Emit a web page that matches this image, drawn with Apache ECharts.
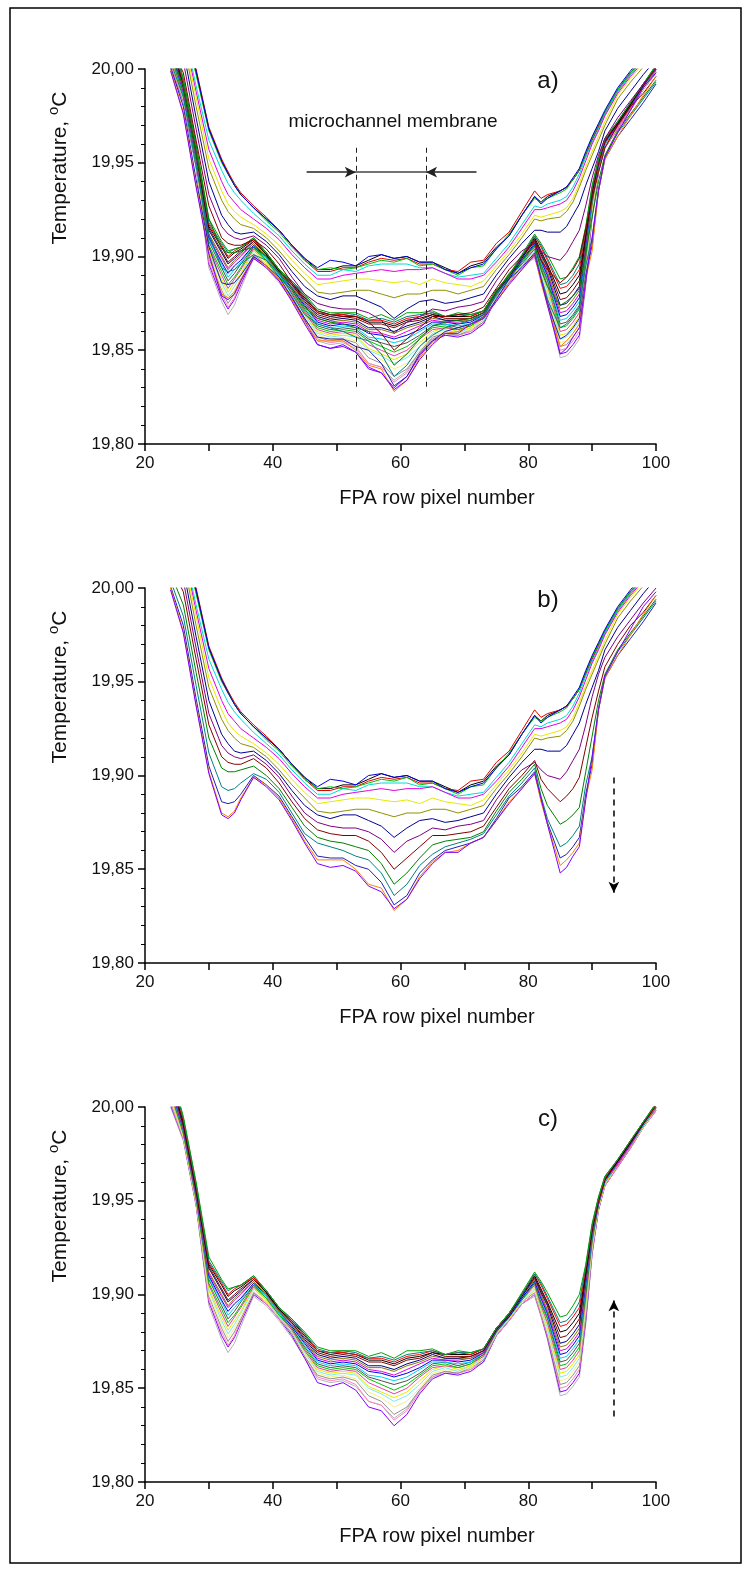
<!DOCTYPE html>
<html>
<head>
<meta charset="utf-8">
<script src="https://cdn.jsdelivr.net/npm/echarts@6/dist/echarts.min.js"></script>
<style>
  html, body { margin: 0; padding: 0; background: #fff; }
  #chart { width: 747px; height: 1569px; }
</style>
</head>
<body>
<div id="chart"></div>
<script>
// FPA row pixel positions where the profiles were sampled
const pixels = [24, 26, 28, 30, 32, 33, 34, 35, 37, 39, 41, 43, 45, 47, 49, 51, 53, 55, 57, 59, 61, 63, 65, 67, 69, 71, 73, 75, 77, 79, 81, 82, 83, 85, 86, 87, 88, 89, 90, 91, 92, 94, 96, 98, 100]

// panel b) - cooling, profiles from first (top) to last (bottom)
const coolingCurves = [
    [20.040, 20.025, 19.998, 19.968, 19.951, 19.945, 19.938, 19.933, 19.926, 19.920, 19.914, 19.906, 19.899, 19.893, 19.893, 19.895, 19.895, 19.898, 19.901, 19.899, 19.900, 19.897, 19.897, 19.894, 19.891, 19.895, 19.897, 19.905, 19.911, 19.922, 19.932, 19.929, 19.932, 19.935, 19.937, 19.941, 19.946, 19.955, 19.963, 19.970, 19.977, 19.989, 19.998, 20.006, 20.014],
    [20.042, 20.027, 20.000, 19.969, 19.952, 19.945, 19.939, 19.934, 19.927, 19.921, 19.914, 19.906, 19.898, 19.892, 19.892, 19.894, 19.894, 19.897, 19.899, 19.898, 19.899, 19.896, 19.896, 19.893, 19.892, 19.897, 19.898, 19.907, 19.913, 19.924, 19.935, 19.931, 19.933, 19.935, 19.937, 19.941, 19.946, 19.954, 19.962, 19.969, 19.976, 19.988, 19.997, 20.005, 20.013],
    [20.040, 20.025, 19.997, 19.967, 19.950, 19.944, 19.938, 19.933, 19.926, 19.919, 19.913, 19.905, 19.898, 19.893, 19.894, 19.893, 19.894, 19.896, 19.898, 19.897, 19.899, 19.895, 19.896, 19.893, 19.890, 19.894, 19.895, 19.904, 19.912, 19.922, 19.931, 19.929, 19.931, 19.934, 19.936, 19.941, 19.946, 19.955, 19.963, 19.970, 19.977, 19.989, 19.998, 20.006, 20.014],
    [20.041, 20.026, 19.999, 19.968, 19.951, 19.944, 19.938, 19.933, 19.926, 19.920, 19.914, 19.906, 19.899, 19.894, 19.898, 19.897, 19.895, 19.900, 19.901, 19.899, 19.900, 19.897, 19.897, 19.893, 19.891, 19.894, 19.896, 19.904, 19.911, 19.922, 19.932, 19.928, 19.931, 19.935, 19.937, 19.942, 19.947, 19.956, 19.964, 19.971, 19.978, 19.990, 19.999, 20.007, 20.015],
    [20.036, 20.022, 19.991, 19.962, 19.946, 19.939, 19.934, 19.930, 19.923, 19.917, 19.911, 19.903, 19.896, 19.890, 19.890, 19.893, 19.892, 19.895, 19.896, 19.896, 19.896, 19.894, 19.894, 19.891, 19.889, 19.890, 19.891, 19.899, 19.907, 19.917, 19.927, 19.926, 19.928, 19.930, 19.932, 19.937, 19.944, 19.953, 19.961, 19.968, 19.976, 19.988, 19.997, 20.005, 20.013],
    [20.032, 20.020, 19.988, 19.957, 19.940, 19.933, 19.929, 19.925, 19.920, 19.915, 19.909, 19.901, 19.894, 19.888, 19.888, 19.890, 19.891, 19.892, 19.893, 19.892, 19.893, 19.893, 19.894, 19.891, 19.888, 19.888, 19.890, 19.897, 19.905, 19.915, 19.925, 19.925, 19.926, 19.928, 19.930, 19.935, 19.942, 19.951, 19.960, 19.967, 19.975, 19.987, 19.996, 20.004, 20.012],
    [20.028, 20.017, 19.985, 19.952, 19.935, 19.928, 19.924, 19.921, 19.917, 19.912, 19.906, 19.898, 19.891, 19.885, 19.886, 19.887, 19.888, 19.888, 19.887, 19.886, 19.887, 19.885, 19.888, 19.886, 19.885, 19.884, 19.887, 19.895, 19.903, 19.912, 19.922, 19.921, 19.922, 19.924, 19.926, 19.931, 19.939, 19.948, 19.956, 19.964, 19.972, 19.986, 19.995, 20.003, 20.011],
    [20.024, 20.015, 19.980, 19.947, 19.930, 19.924, 19.920, 19.917, 19.915, 19.910, 19.903, 19.895, 19.888, 19.881, 19.880, 19.881, 19.882, 19.882, 19.880, 19.878, 19.880, 19.880, 19.882, 19.882, 19.880, 19.882, 19.884, 19.893, 19.901, 19.910, 19.920, 19.919, 19.920, 19.921, 19.924, 19.929, 19.937, 19.946, 19.954, 19.962, 19.970, 19.984, 19.993, 20.001, 20.009],
    [20.020, 20.010, 19.974, 19.940, 19.922, 19.917, 19.913, 19.912, 19.913, 19.908, 19.901, 19.892, 19.884, 19.879, 19.877, 19.879, 19.879, 19.876, 19.873, 19.867, 19.872, 19.876, 19.877, 19.875, 19.876, 19.878, 19.880, 19.890, 19.899, 19.907, 19.914, 19.914, 19.913, 19.913, 19.916, 19.922, 19.928, 19.938, 19.947, 19.956, 19.967, 19.979, 19.988, 19.997, 20.005],
    [20.016, 20.004, 19.968, 19.933, 19.916, 19.912, 19.910, 19.909, 19.911, 19.906, 19.899, 19.889, 19.880, 19.875, 19.873, 19.872, 19.872, 19.870, 19.866, 19.859, 19.865, 19.868, 19.872, 19.871, 19.873, 19.874, 19.876, 19.887, 19.896, 19.903, 19.907, 19.903, 19.900, 19.898, 19.902, 19.908, 19.914, 19.927, 19.942, 19.954, 19.963, 19.974, 19.983, 19.992, 20.000],
    [20.012, 19.998, 19.962, 19.927, 19.910, 19.907, 19.906, 19.906, 19.909, 19.904, 19.896, 19.886, 19.877, 19.871, 19.869, 19.868, 19.868, 19.865, 19.859, 19.850, 19.856, 19.862, 19.868, 19.868, 19.869, 19.870, 19.873, 19.883, 19.893, 19.900, 19.908, 19.898, 19.893, 19.886, 19.889, 19.893, 19.899, 19.915, 19.931, 19.945, 19.958, 19.970, 19.980, 19.987, 19.996],
    [20.008, 19.991, 19.955, 19.920, 19.904, 19.902, 19.902, 19.903, 19.905, 19.900, 19.893, 19.883, 19.873, 19.867, 19.865, 19.864, 19.862, 19.860, 19.853, 19.842, 19.848, 19.856, 19.863, 19.865, 19.866, 19.867, 19.870, 19.881, 19.891, 19.898, 19.906, 19.893, 19.884, 19.874, 19.876, 19.879, 19.883, 19.902, 19.921, 19.940, 19.954, 19.967, 19.976, 19.985, 19.994],
    [20.004, 19.985, 19.948, 19.912, 19.894, 19.892, 19.893, 19.896, 19.901, 19.898, 19.891, 19.880, 19.869, 19.864, 19.862, 19.860, 19.857, 19.855, 19.848, 19.836, 19.842, 19.852, 19.858, 19.862, 19.864, 19.866, 19.869, 19.879, 19.889, 19.896, 19.904, 19.889, 19.877, 19.862, 19.864, 19.868, 19.873, 19.895, 19.910, 19.936, 19.953, 19.966, 19.975, 19.984, 19.993],
    [20.001, 19.980, 19.941, 19.905, 19.886, 19.885, 19.886, 19.890, 19.900, 19.895, 19.889, 19.878, 19.867, 19.857, 19.856, 19.856, 19.852, 19.850, 19.843, 19.831, 19.836, 19.848, 19.855, 19.860, 19.862, 19.864, 19.867, 19.877, 19.888, 19.894, 19.902, 19.887, 19.875, 19.856, 19.858, 19.862, 19.867, 19.890, 19.906, 19.935, 19.952, 19.964, 19.973, 19.982, 19.992],
    [20.000, 19.977, 19.938, 19.902, 19.880, 19.878, 19.881, 19.888, 19.899, 19.895, 19.888, 19.877, 19.865, 19.855, 19.855, 19.855, 19.850, 19.842, 19.840, 19.828, 19.834, 19.846, 19.854, 19.859, 19.860, 19.864, 19.867, 19.876, 19.886, 19.893, 19.901, 19.886, 19.874, 19.852, 19.855, 19.859, 19.864, 19.888, 19.903, 19.935, 19.952, 19.964, 19.975, 19.986, 19.996],
    [19.999, 19.976, 19.937, 19.901, 19.879, 19.877, 19.880, 19.887, 19.899, 19.894, 19.887, 19.876, 19.864, 19.853, 19.851, 19.852, 19.849, 19.841, 19.838, 19.829, 19.834, 19.845, 19.853, 19.859, 19.859, 19.864, 19.867, 19.876, 19.885, 19.893, 19.901, 19.888, 19.874, 19.848, 19.851, 19.857, 19.862, 19.887, 19.910, 19.935, 19.953, 19.966, 19.978, 19.990, 19.998]
]

// panel c) - recovery, profiles from first (bottom) to last (top)
const recoveryCurves = [
    [20.000, 19.982, 19.947, 19.894, 19.876, 19.869, 19.874, 19.883, 19.899, 19.894, 19.886, 19.877, 19.866, 19.855, 19.853, 19.854, 19.851, 19.843, 19.841, 19.834, 19.839, 19.849, 19.856, 19.858, 19.858, 19.860, 19.864, 19.878, 19.886, 19.895, 19.899, 19.888, 19.876, 19.846, 19.847, 19.851, 19.856, 19.884, 19.921, 19.945, 19.958, 19.968, 19.978, 19.989, 19.998],
    [20.001, 19.983, 19.948, 19.896, 19.878, 19.872, 19.877, 19.885, 19.900, 19.895, 19.887, 19.878, 19.866, 19.853, 19.851, 19.853, 19.849, 19.840, 19.838, 19.830, 19.836, 19.847, 19.855, 19.858, 19.857, 19.859, 19.864, 19.878, 19.886, 19.895, 19.900, 19.889, 19.877, 19.848, 19.849, 19.853, 19.858, 19.886, 19.922, 19.945, 19.958, 19.968, 19.978, 19.989, 19.998],
    [20.002, 19.983, 19.948, 19.897, 19.880, 19.873, 19.878, 19.886, 19.901, 19.895, 19.887, 19.879, 19.867, 19.856, 19.854, 19.855, 19.852, 19.843, 19.841, 19.833, 19.838, 19.848, 19.856, 19.859, 19.858, 19.860, 19.865, 19.878, 19.886, 19.895, 19.900, 19.889, 19.878, 19.850, 19.851, 19.855, 19.860, 19.888, 19.923, 19.946, 19.958, 19.968, 19.978, 19.989, 19.998],
    [20.003, 19.984, 19.949, 19.899, 19.882, 19.875, 19.880, 19.887, 19.901, 19.896, 19.888, 19.879, 19.867, 19.857, 19.855, 19.856, 19.854, 19.846, 19.843, 19.836, 19.840, 19.849, 19.857, 19.859, 19.858, 19.861, 19.865, 19.879, 19.887, 19.896, 19.901, 19.890, 19.879, 19.852, 19.853, 19.857, 19.862, 19.890, 19.924, 19.946, 19.959, 19.969, 19.979, 19.989, 19.999],
    [20.004, 19.984, 19.949, 19.900, 19.884, 19.877, 19.882, 19.888, 19.902, 19.896, 19.888, 19.880, 19.868, 19.858, 19.856, 19.857, 19.855, 19.848, 19.845, 19.840, 19.843, 19.850, 19.858, 19.860, 19.859, 19.861, 19.866, 19.879, 19.887, 19.896, 19.902, 19.891, 19.880, 19.854, 19.855, 19.859, 19.864, 19.892, 19.925, 19.946, 19.959, 19.969, 19.979, 19.989, 19.999],
    [20.005, 19.985, 19.950, 19.902, 19.886, 19.879, 19.884, 19.890, 19.903, 19.897, 19.888, 19.880, 19.869, 19.859, 19.857, 19.858, 19.857, 19.850, 19.847, 19.843, 19.846, 19.852, 19.859, 19.861, 19.859, 19.862, 19.866, 19.879, 19.887, 19.896, 19.903, 19.892, 19.882, 19.856, 19.857, 19.861, 19.866, 19.894, 19.926, 19.947, 19.959, 19.969, 19.979, 19.990, 19.999],
    [20.006, 19.985, 19.950, 19.903, 19.888, 19.881, 19.886, 19.891, 19.904, 19.897, 19.889, 19.881, 19.870, 19.860, 19.858, 19.859, 19.858, 19.851, 19.848, 19.845, 19.848, 19.854, 19.860, 19.862, 19.860, 19.862, 19.867, 19.880, 19.887, 19.897, 19.904, 19.893, 19.884, 19.858, 19.859, 19.863, 19.868, 19.896, 19.927, 19.947, 19.959, 19.969, 19.979, 19.990, 19.999],
    [20.007, 19.986, 19.951, 19.905, 19.890, 19.883, 19.888, 19.893, 19.904, 19.898, 19.889, 19.881, 19.870, 19.861, 19.859, 19.860, 19.859, 19.853, 19.850, 19.847, 19.850, 19.856, 19.861, 19.862, 19.861, 19.863, 19.867, 19.880, 19.888, 19.897, 19.905, 19.894, 19.885, 19.860, 19.861, 19.865, 19.870, 19.898, 19.928, 19.948, 19.960, 19.969, 19.979, 19.990, 19.999],
    [20.008, 19.986, 19.951, 19.906, 19.892, 19.885, 19.889, 19.894, 19.905, 19.898, 19.889, 19.882, 19.871, 19.862, 19.860, 19.861, 19.860, 19.855, 19.852, 19.849, 19.852, 19.857, 19.862, 19.863, 19.861, 19.863, 19.868, 19.880, 19.888, 19.897, 19.906, 19.895, 19.887, 19.862, 19.863, 19.867, 19.872, 19.900, 19.929, 19.948, 19.960, 19.970, 19.980, 19.990, 20.000],
    [20.009, 19.987, 19.952, 19.908, 19.894, 19.887, 19.891, 19.896, 19.905, 19.899, 19.890, 19.882, 19.872, 19.863, 19.861, 19.862, 19.861, 19.856, 19.854, 19.852, 19.854, 19.858, 19.863, 19.864, 19.862, 19.864, 19.868, 19.880, 19.888, 19.898, 19.906, 19.896, 19.888, 19.864, 19.865, 19.869, 19.874, 19.902, 19.930, 19.948, 19.960, 19.970, 19.980, 19.990, 20.000],
    [20.010, 19.987, 19.952, 19.909, 19.896, 19.889, 19.893, 19.897, 19.906, 19.899, 19.890, 19.883, 19.873, 19.864, 19.862, 19.863, 19.862, 19.857, 19.856, 19.854, 19.856, 19.860, 19.864, 19.864, 19.863, 19.864, 19.869, 19.881, 19.888, 19.898, 19.907, 19.897, 19.889, 19.866, 19.867, 19.871, 19.876, 19.904, 19.931, 19.949, 19.960, 19.970, 19.980, 19.990, 20.000],
    [20.011, 19.988, 19.953, 19.910, 19.897, 19.891, 19.895, 19.898, 19.906, 19.900, 19.891, 19.883, 19.874, 19.865, 19.863, 19.864, 19.863, 19.859, 19.858, 19.856, 19.858, 19.861, 19.865, 19.865, 19.864, 19.865, 19.869, 19.881, 19.888, 19.898, 19.907, 19.898, 19.890, 19.868, 19.869, 19.873, 19.878, 19.906, 19.932, 19.949, 19.961, 19.970, 19.980, 19.991, 20.000],
    [20.012, 19.988, 19.953, 19.911, 19.899, 19.893, 19.897, 19.900, 19.907, 19.900, 19.891, 19.884, 19.875, 19.866, 19.864, 19.865, 19.864, 19.860, 19.859, 19.857, 19.860, 19.863, 19.866, 19.865, 19.865, 19.866, 19.869, 19.881, 19.889, 19.899, 19.908, 19.899, 19.891, 19.870, 19.871, 19.875, 19.880, 19.908, 19.933, 19.949, 19.961, 19.970, 19.980, 19.991, 20.000],
    [20.013, 19.989, 19.954, 19.912, 19.900, 19.894, 19.898, 19.901, 19.907, 19.900, 19.891, 19.884, 19.875, 19.867, 19.865, 19.866, 19.865, 19.861, 19.861, 19.859, 19.862, 19.864, 19.867, 19.866, 19.866, 19.866, 19.870, 19.881, 19.889, 19.899, 19.908, 19.900, 19.892, 19.872, 19.873, 19.877, 19.882, 19.909, 19.933, 19.950, 19.961, 19.971, 19.981, 19.991, 20.000],
    [20.014, 19.990, 19.955, 19.914, 19.902, 19.896, 19.899, 19.902, 19.908, 19.901, 19.892, 19.885, 19.876, 19.868, 19.866, 19.867, 19.866, 19.862, 19.862, 19.860, 19.863, 19.865, 19.868, 19.866, 19.866, 19.867, 19.870, 19.881, 19.889, 19.899, 19.909, 19.901, 19.894, 19.874, 19.875, 19.879, 19.884, 19.910, 19.934, 19.950, 19.961, 19.971, 19.981, 19.991, 20.001],
    [20.015, 19.991, 19.956, 19.915, 19.903, 19.897, 19.900, 19.903, 19.908, 19.901, 19.892, 19.885, 19.877, 19.869, 19.867, 19.868, 19.867, 19.864, 19.864, 19.862, 19.865, 19.866, 19.869, 19.867, 19.867, 19.867, 19.870, 19.882, 19.889, 19.900, 19.909, 19.902, 19.895, 19.877, 19.878, 19.882, 19.887, 19.911, 19.935, 19.950, 19.962, 19.971, 19.981, 19.991, 20.001],
    [20.016, 19.992, 19.957, 19.916, 19.905, 19.899, 19.902, 19.904, 19.909, 19.901, 19.892, 19.886, 19.878, 19.870, 19.868, 19.869, 19.868, 19.865, 19.865, 19.863, 19.866, 19.867, 19.869, 19.868, 19.868, 19.868, 19.871, 19.882, 19.890, 19.900, 19.910, 19.903, 19.896, 19.880, 19.881, 19.885, 19.890, 19.912, 19.935, 19.951, 19.962, 19.971, 19.981, 19.992, 20.001],
    [20.017, 19.993, 19.958, 19.917, 19.906, 19.900, 19.903, 19.905, 19.909, 19.902, 19.893, 19.886, 19.879, 19.870, 19.869, 19.869, 19.868, 19.866, 19.866, 19.864, 19.867, 19.868, 19.870, 19.868, 19.869, 19.868, 19.871, 19.882, 19.890, 19.900, 19.911, 19.905, 19.898, 19.883, 19.884, 19.888, 19.893, 19.914, 19.936, 19.951, 19.962, 19.972, 19.982, 19.992, 20.001],
    [20.018, 19.994, 19.959, 19.918, 19.907, 19.902, 19.904, 19.905, 19.910, 19.902, 19.893, 19.887, 19.879, 19.871, 19.869, 19.870, 19.869, 19.866, 19.867, 19.865, 19.868, 19.869, 19.870, 19.868, 19.869, 19.869, 19.871, 19.882, 19.890, 19.900, 19.911, 19.906, 19.899, 19.885, 19.886, 19.890, 19.896, 19.915, 19.937, 19.952, 19.963, 19.972, 19.982, 19.992, 20.002],
    [20.020, 19.995, 19.960, 19.920, 19.908, 19.903, 19.904, 19.905, 19.910, 19.902, 19.893, 19.887, 19.880, 19.872, 19.870, 19.870, 19.870, 19.867, 19.869, 19.866, 19.870, 19.870, 19.871, 19.868, 19.870, 19.869, 19.871, 19.882, 19.890, 19.901, 19.912, 19.907, 19.901, 19.888, 19.889, 19.894, 19.900, 19.916, 19.938, 19.952, 19.963, 19.972, 19.982, 19.992, 20.002]
]

const coolingColors = ['#000000', '#e00000', '#00c000', '#0000e0', '#00d8d8', '#e000e0', '#e8e800', '#909000',
    '#000090', '#800080', '#800000', '#008000', '#008080', '#2020b0', '#ff8000', '#8000ff']
const recoveryColors = ['#b4b4b4', '#8000ff', '#ff80c0', '#909090', '#f0f080', '#80e8e8', '#e8e800', '#e040a0',
    '#00c000', '#505050', '#00d0f0', '#0000e0', '#e000e0', '#808000', '#000080', '#800000',
    '#000000', '#ff0000', '#008080', '#00a000']

const panelLetters = ['a)', 'b)', 'c)']
const xTitle = 'FPA row pixel number'

const chart = echarts.init(document.getElementById('chart'), null, { renderer: 'canvas' })

const FONT = 'Liberation Sans, Arial, sans-serif'
const tops = [69, 588, 1107]
const plotH = 375

const grids = tops.map(t => ({ left: 145, top: t, width: 511, height: plotH }))

const xAxes = tops.map((t, i) => ({
    type: 'value', gridIndex: i, min: 20, max: 100, interval: 10,
    axisLine: { lineStyle: { color: '#000', width: 1.5 } },
    axisTick: { inside: false, length: 7, lineStyle: { color: '#000', width: 1.5 } },
    axisLabel: {
        margin: 11, fontSize: 17, fontFamily: FONT, color: '#111',
        formatter: v => (v % 20 === 0 ? String(v) : '')
    },
    splitLine: { show: false }
}))

const yAxes = tops.map((t, i) => ({
    type: 'value', gridIndex: i, min: 19.8, max: 20.0, interval: 0.05,
    axisLine: { show: true, lineStyle: { color: '#000', width: 1.5 } },
    axisTick: { show: true, inside: false, length: 7, lineStyle: { color: '#000', width: 1.5 } },
    minorTick: { show: true, splitNumber: 5, length: 4, lineStyle: { color: '#000', width: 1 } },
    axisLabel: {
        margin: 11, fontSize: 17, fontFamily: FONT, color: '#111',
        formatter: v => v.toFixed(2).replace('.', ',')
    },
    splitLine: { show: false }
}))

const profile = (curve, color, idx) => ({
    type: 'line',
    xAxisIndex: idx, yAxisIndex: idx,
    data: pixels.map((x, i) => [x, curve[i]]),
    showSymbol: false, symbol: 'none',
    clip: true, silent: true, animation: false,
    lineStyle: { color, width: 1 }
})

const series = []
// a) holds both the cooling and the recovery profiles
recoveryCurves.forEach((c, k) => series.push(profile(c, recoveryColors[k], 0)))
coolingCurves.forEach((c, k) => series.push(profile(c, coolingColors[k], 0)))
coolingCurves.forEach((c, k) => series.push(profile(c, coolingColors[k], 1)))
recoveryCurves.forEach((c, k) => series.push(profile(c, recoveryColors[k], 2)))

// annotation helper
const marker = (idx, lines, lineStyle, symbol) => ({
    type: 'line', xAxisIndex: idx, yAxisIndex: idx, data: [], silent: true, animation: false,
    markLine: {
        silent: true, animation: false, symbol, symbolSize: [8, 11],
        label: { show: false }, emphasis: { disabled: true },
        lineStyle, data: lines
    }
})

// membrane borders (a)
series.push(marker(0, [
    [{ coord: [53, 19.958] }, { coord: [53, 19.830] }],
    [{ coord: [64, 19.958] }, { coord: [64, 19.830] }]
], { color: '#222', width: 1, type: [5, 4] }, ['none', 'none']))
series.push(marker(0, [
    [{ coord: [53, 19.945] }, { coord: [64, 19.945] }]
], { color: '#444', width: 1.5, type: 'solid' }, ['none', 'none']))
series.push(marker(0, [
    [{ coord: [45.3, 19.945] }, { coord: [53, 19.945] }],
    [{ coord: [71.9, 19.945] }, { coord: [64, 19.945] }]
], { color: '#222', width: 1.5, type: 'solid' }, ['none', 'arrow']))
// time direction arrows (b, c)
series.push(marker(1, [
    [{ coord: [93.4, 19.899] }, { coord: [93.4, 19.8375] }]
], { color: '#000', width: 1.5, type: [6, 5] }, ['none', 'arrow']))
series.push(marker(2, [
    [{ coord: [93.4, 19.835] }, { coord: [93.4, 19.897] }]
], { color: '#000', width: 1.5, type: [6, 5] }, ['none', 'arrow']))

const graphic = []
tops.forEach((t, i) => {
    graphic.push({
        type: 'text', x: 548, y: t + 12, silent: true,
        style: { text: panelLetters[i], font: '24px ' + FONT, fill: '#111', align: 'center', verticalAlign: 'middle' }
    })
    graphic.push({
        type: 'text', x: 437, y: t + plotH + 54, silent: true,
        style: { text: xTitle, font: '20px ' + FONT, fill: '#111', align: 'center', verticalAlign: 'middle' }
    })
    graphic.push({
        type: 'text', x: 60, y: t + 99, rotation: Math.PI / 2, silent: true,
        style: {
            text: 'Temperature, {s|o}C', align: 'center', verticalAlign: 'middle',
            font: '21px ' + FONT, fill: '#111',
            rich: {
                s: { fontSize: 15, fontFamily: FONT, fill: '#111', verticalAlign: 'top', lineHeight: 27 }
            },
            lineHeight: 27
        }
    })
})
graphic.push({
    type: 'text', x: 393, y: 122, silent: true,
    style: { text: 'microchannel membrane', font: '19px ' + FONT, fill: '#111', align: 'center', verticalAlign: 'middle' }
})
// page frame
graphic.push({
    type: 'rect', silent: true,
    shape: { x: 10, y: 8, width: 731, height: 1555 },
    style: { stroke: '#000', lineWidth: 1.5, fill: null }
})

chart.setOption({
    backgroundColor: '#fff',
    animation: false,
    grid: grids,
    xAxis: xAxes,
    yAxis: yAxes,
    series,
    graphic
})
</script>
</body>
</html>
